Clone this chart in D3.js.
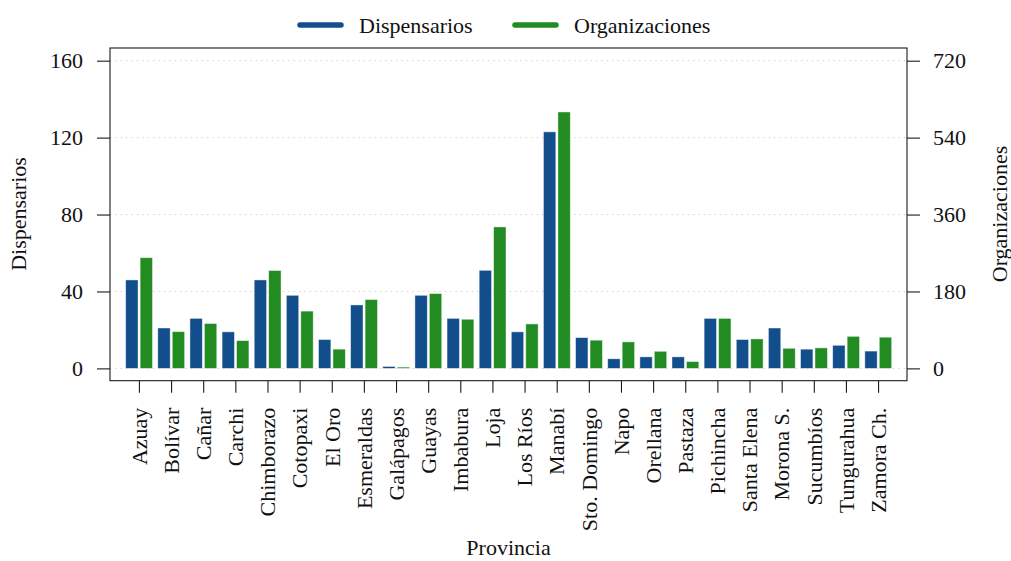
<!DOCTYPE html>
<html><head><meta charset="utf-8">
<script src="https://cdn.jsdelivr.net/npm/d3@7"></script>
<style>body{margin:0;background:#fff}svg{display:block}text{font-family:"Liberation Serif","Times New Roman",serif;fill:#111}</style>
</head><body><svg id="c" width="1011" height="561"></svg>
<script>
const categories = ["Azuay","Bolívar","Cañar","Carchi","Chimborazo","Cotopaxi","El Oro","Esmeraldas","Galápagos","Guayas","Imbabura","Loja","Los Ríos","Manabí","Sto. Domingo","Napo","Orellana","Pastaza","Pichincha","Santa Elena","Morona S.","Sucumbíos","Tungurahua","Zamora Ch."];
const dispensarios = [46,21,26,19,46,38,15,33,1,38,26,51,19,123,16,5,6,6,26,15,21,10,12,9];
const organizaciones = [259,86,105,65,229,134,45,161,3,175,115,331,104,600,66,62,40,16,117,69,47,48,75,73];
const leftTicks = [0,40,80,120,160];
const rightTicks = [0,180,360,540,720];
const seriesNames = ["Dispensarios","Organizaciones"];
const colors = ["#114e8b","#228b22"];

const svg = d3.select("#c");
const L=110, R=907, T=48, B=380.7;
const x = d3.scaleLinear().domain([-0.9, categories.length-0.1]).range([L,R]);
const yL = d3.scaleLinear().domain([-6.4,166.6]).range([B,T]);
const yR = d3.scaleLinear().domain([-6.4*4.5,166.6*4.5]).range([B,T]);
const FS = 22;

// grid
svg.append("g").selectAll("line").data(leftTicks).join("line")
  .attr("x1",L).attr("x2",R).attr("y1",d=>yL(d)).attr("y2",d=>yL(d))
  .attr("stroke","#c8c8c8").attr("stroke-width",1).attr("stroke-dasharray","1.2,4.2");

const bw = 0.385;
const bwPx = x(bw)-x(0);
const g = svg.append("g");
g.selectAll("rect.d").data(dispensarios).join("rect").attr("class","d")
  .attr("x",(d,i)=>x(i-0.22)-bwPx/2)
  .attr("width",bwPx).attr("y",d=>yL(d)).attr("height",d=>yL(0)-yL(d))
  .attr("fill",colors[0]).attr("stroke","#ffffff").attr("stroke-opacity",0.55).attr("stroke-width",0.8);
g.selectAll("rect.o").data(organizaciones).join("rect").attr("class","o")
  .attr("x",(d,i)=>x(i+0.23)-bwPx/2)
  .attr("width",bwPx).attr("y",d=>yR(d)).attr("height",d=>yR(0)-yR(d))
  .attr("fill",colors[1]).attr("stroke","#ffffff").attr("stroke-opacity",0.55).attr("stroke-width",0.8);

// frame
svg.append("rect").attr("x",L).attr("y",T).attr("width",R-L).attr("height",B-T)
  .attr("fill","none").attr("stroke","#1a1a1a").attr("stroke-width",1.1);

// axes
const ax1 = d3.axisLeft(yL).tickValues(leftTicks).tickSize(13).tickPadding(14);
const gl = svg.append("g").attr("transform",`translate(${L},0)`).call(ax1);
const ax2 = d3.axisRight(yR).tickValues(rightTicks).tickSize(13).tickPadding(13);
const gr = svg.append("g").attr("transform",`translate(${R},0)`).call(ax2);
const ax3 = d3.axisBottom(x).tickValues(d3.range(categories.length)).tickSize(12).tickFormat(i=>categories[i]);
const gb = svg.append("g").attr("transform",`translate(0,${B})`).call(ax3);
[gl,gr,gb].forEach(a=>{
  a.select(".domain").remove();
  a.selectAll(".tick line").attr("stroke","#1a1a1a").attr("stroke-width",1.1);
  a.selectAll("text").style("font-family",'"Liberation Serif",serif').style("font-size",FS+"px").attr("fill","#111");
});
gb.selectAll(".tick text").attr("transform","rotate(-90)").attr("text-anchor","end")
  .attr("x",-27).attr("y",0).attr("dy","0.33em");

// axis titles
svg.append("text").attr("x",(L+R)/2).attr("y",555).attr("text-anchor","middle").style("font-size",FS+"px").text("Provincia");
svg.append("text").attr("transform","translate(26,214) rotate(-90)").attr("text-anchor","middle").style("font-size",FS+"px").text("Dispensarios");
svg.append("text").attr("transform","translate(1007,214) rotate(-90)").attr("text-anchor","middle").style("font-size",FS+"px").text("Organizaciones");

// legend
const lx = [298, 513];
seriesNames.forEach((n,i)=>{
  svg.append("line").attr("x1",lx[i]+2).attr("x2",lx[i]+43).attr("y1",25).attr("y2",25)
    .attr("stroke",colors[i]).attr("stroke-width",5.5).attr("stroke-linecap","round");
  svg.append("text").attr("x",lx[i]+61).attr("y",33).style("font-size",FS+"px").text(n);
});
</script></body></html>
